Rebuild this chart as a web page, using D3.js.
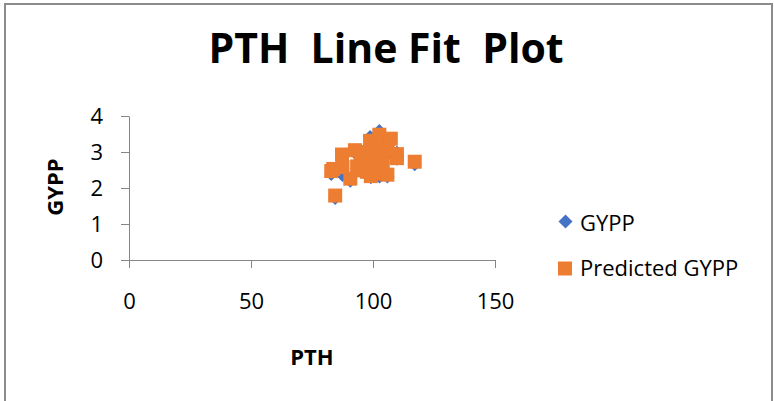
<!DOCTYPE html>
<meta charset="utf-8">
<script src="https://d3js.org/d3.v7.min.js"></script>
<style>
  body { margin: 0; background: #fff; }
  text { font-family: "Open Sans", "DejaVu Sans", sans-serif; fill: #000; }
</style>
<div id="chart"></div>
<script>

    // PTH values and the two GYPP series
    var pth       = [84.5, 117.1, 82.9, 83.7, 87.3, 90.7, 92.6, 98.8, 102.6, 107.3, 109.8, 109.8,
                     99.1, 102.7, 105.9, 87.5, 96.3, 95.0, 100.0, 100.0, 104.0, 104.0, 106.0,
                     93.5, 101.5, 97.5, 96.5, 101.0];
    var gypp      = [1.72, 2.66, 2.39, 2.50, 2.85, 2.20, 2.98, 3.42, 3.58, 3.30, 2.98, 2.81,
                     2.30, 2.32, 2.32, 2.36, 2.45, 2.72, 3.05, 2.60, 3.15, 2.70, 2.95,
                     2.55, 2.85, 2.40, 2.95, 3.05];
    var predicted = [1.79, 2.73, 2.47, 2.53, 2.93, 2.26, 3.05, 3.31, 3.48, 3.37, 2.94, 2.83,
                     2.33, 2.40, 2.37, 2.58, 2.49, 2.80, 2.95, 2.65, 3.10, 2.75, 3.05,
                     2.60, 2.80, 2.45, 3.00, 3.10];
    var xTicks = [0, 50, 100, 150];
    var yTicks = [0, 1, 2, 3, 4];
    var seriesNames = ["GYPP", "Predicted GYPP"];

    var width = 774, height = 401;
    var blue = "#4472c4", orange = "#ed7d31", axisGrey = "#868686";

    var svg = d3.select("#chart").append("svg").attr("width", width).attr("height", height);

    // chart frame (bottom edge is cut off in the picture)
    svg.append("path")
        .attr("d", "M5,401V4H772V401")
        .attr("fill", "none").attr("stroke", "#8c8c8c").attr("stroke-width", 2);

    var x = d3.scaleLinear().domain([0, 150]).range([129, 495]);
    var y = d3.scaleLinear().domain([0, 4]).range([260, 116]);

    var xAxis = svg.append("g").attr("transform", "translate(0," + y(0) + ")")
        .call(d3.axisBottom(x).tickValues(xTicks).tickFormat(d3.format("d"))
            .tickSize(8).tickSizeOuter(0).tickPadding(25));
    var yAxis = svg.append("g").attr("transform", "translate(" + x(0) + ",0)")
        .call(d3.axisLeft(y).tickValues(yTicks).tickFormat(d3.format("d"))
            .tickSize(8).tickSizeOuter(0).tickPadding(18));

    [xAxis, yAxis].forEach(function(g) {
        g.select(".domain").attr("stroke", axisGrey);
        g.selectAll(".tick line").attr("stroke", axisGrey);
        g.selectAll(".tick text").style("font-size", "22px")
            .style("font-family", "'Open Sans', sans-serif").attr("fill", "#000");
    });

    svg.append("text").attr("x", 386).attr("y", 63).attr("text-anchor", "middle")
        .style("font-size", "41px").style("font-weight", "bold").style("white-space", "pre")
        .text("PTH  Line Fit  Plot");

    svg.append("text").attr("x", 312).attr("y", 365).attr("text-anchor", "middle")
        .style("font-size", "22px").style("font-weight", "bold").text("PTH");

    svg.append("text").attr("transform", "translate(63,187) rotate(-90)").attr("text-anchor", "middle")
        .style("font-size", "22px").style("font-weight", "bold").text("GYPP");

    var diamond = "M0,-7L7,0L0,7L-7,0Z";

    // actual values first, predicted squares drawn over them
    svg.append("g").selectAll("path").data(pth).enter().append("path")
        .attr("d", diamond).attr("fill", blue)
        .attr("transform", function(d, i) { return "translate(" + x(d) + "," + y(gypp[i]) + ")"; });

    svg.append("g").selectAll("rect").data(pth).enter().append("rect")
        .attr("x", function(d) { return x(d) - 7; })
        .attr("y", function(d, i) { return y(predicted[i]) - 7; })
        .attr("width", 14).attr("height", 14).attr("fill", orange);

    // legend
    var legend = svg.append("g");
    legend.append("path").attr("d", diamond).attr("fill", blue).attr("transform", "translate(565.5,221.5)");
    legend.append("rect").attr("x", 558).attr("y", 261.5).attr("width", 14).attr("height", 14).attr("fill", orange);
    legend.append("text").attr("x", 580).attr("y", 230.5).style("font-size", "22px").text(seriesNames[0]);
    legend.append("text").attr("x", 580).attr("y", 276).style("font-size", "22px").text(seriesNames[1]);

</script>
